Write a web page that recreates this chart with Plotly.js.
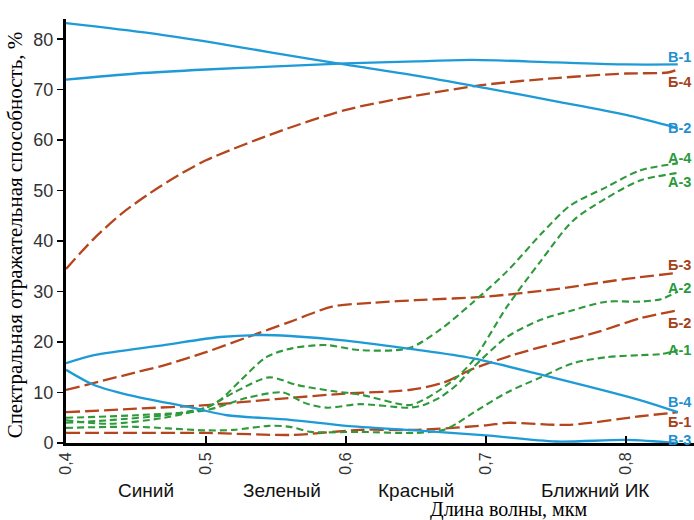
<!DOCTYPE html>
<html>
<head>
<meta charset="utf-8">
<script src="https://cdn.plot.ly/plotly-3.0.1.min.js"></script>
<style>html,body{margin:0;padding:0;background:#fff;}#chart{width:694px;height:520px;}</style>
</head>
<body>
<div id="chart"></div>
<script>
// ---- data ----
const xTicks = [0.4, 0.5, 0.6, 0.7, 0.8];
const xTickText = ['0,4', '0,5', '0,6', '0,7', '0,8'];
const yTicks = [0, 10, 20, 30, 40, 50, 60, 70, 80];
const bands = ['Синий', 'Зеленый', 'Красный', 'Ближний ИК'];

const v1x = [0.4, 0.45, 0.5, 0.55, 0.6, 0.65, 0.69, 0.75, 0.8, 0.837];
const v1y = [72, 73.2, 74, 74.6, 75.2, 75.6, 75.9, 75.4, 75, 75];
const v2x = [0.4, 0.46, 0.503, 0.546, 0.594, 0.65, 0.7, 0.75, 0.8, 0.837];
const v2y = [83.2, 81.2, 79.4, 77.4, 75.2, 72.8, 70.3, 67.7, 65, 62.4];
const v3x = [0.4, 0.42, 0.445, 0.49, 0.515, 0.56, 0.6, 0.65, 0.7, 0.75, 0.8, 0.837];
const v3y = [14.5, 11.5, 9.5, 7, 5.5, 4.6, 3.4, 2.5, 1.5, 0.3, 0.6, 0];
const v4x = [0.4, 0.42, 0.47, 0.51, 0.54, 0.56, 0.6, 0.65, 0.69, 0.74, 0.81, 0.837];
const v4y = [15.8, 17.4, 19.4, 21, 21.4, 21.2, 20.3, 18.5, 16.8, 13.5, 8.5, 6.1];

const b1x = [0.4, 0.45, 0.5, 0.562, 0.61, 0.65, 0.7, 0.715, 0.76, 0.81, 0.837];
const b1y = [2, 2, 2, 1.6, 2.6, 2.6, 3.5, 4, 3.6, 5.3, 6.1];
const b2x = [0.4, 0.45, 0.5, 0.55, 0.6, 0.645, 0.67, 0.69, 0.72, 0.75, 0.78, 0.81, 0.837];
const b2y = [6.1, 6.8, 7.5, 8.7, 9.8, 10.5, 12, 14.6, 17.5, 19.8, 22, 24.7, 26.3];
const b3x = [0.4, 0.45, 0.47, 0.5, 0.53, 0.56, 0.59, 0.62, 0.65, 0.7, 0.75, 0.8, 0.837];
const b3y = [10.5, 14, 15.4, 18, 21, 24, 27, 27.8, 28.3, 29, 30.5, 32.5, 33.7];
const b4x = [0.4, 0.42, 0.44, 0.46, 0.48, 0.5, 0.55, 0.6, 0.65, 0.7, 0.75, 0.8, 0.83, 0.837];
const b4y = [34.5, 40.5, 45.5, 49.5, 53, 56, 61.5, 66, 68.8, 71, 72.3, 73.2, 73.4, 74];

const a1x = [0.4, 0.45, 0.5, 0.52, 0.545, 0.56, 0.575, 0.61, 0.65, 0.67, 0.68, 0.691, 0.715, 0.739, 0.762, 0.786, 0.81, 0.825, 0.837];
const a1y = [3, 3.2, 2.5, 2.6, 3.4, 3.2, 2.2, 2.2, 2, 2.6, 4, 6, 10, 13, 15.8, 17, 17.4, 17.6, 18.4];
const a2x = [0.4, 0.45, 0.5, 0.53, 0.555, 0.57, 0.586, 0.61, 0.645, 0.655, 0.667, 0.679, 0.691, 0.715, 0.739, 0.762, 0.786, 0.81, 0.825, 0.837];
const a2y = [5, 5.5, 6.5, 9, 10, 8, 7, 7.7, 7, 7.5, 9, 11.5, 15, 21, 24.4, 26.3, 28, 28, 28.5, 30];
const a3x = [0.4, 0.43, 0.47, 0.5, 0.52, 0.545, 0.565, 0.59, 0.61, 0.645, 0.655, 0.667, 0.679, 0.691, 0.715, 0.739, 0.762, 0.786, 0.81, 0.837];
const a3y = [4.5, 3.8, 5, 7, 10, 13, 11.5, 10.3, 9.6, 7.5, 8.5, 10.5, 13, 16.4, 27, 36, 44, 48.5, 52, 53.5];
const a4x = [0.4, 0.43, 0.47, 0.5, 0.51, 0.525, 0.543, 0.562, 0.586, 0.61, 0.645, 0.667, 0.69, 0.715, 0.74, 0.76, 0.786, 0.81, 0.837];
const a4y = [4, 4.5, 5.5, 7, 8.5, 12.5, 17, 18.8, 19.4, 18.4, 18.8, 22.4, 27.7, 34, 41.6, 47, 50.7, 54, 55.4];

const seriesNames = ['В-1', 'Б-4', 'В-2', 'А-4', 'А-3', 'Б-3', 'А-2', 'Б-2', 'А-1', 'В-4', 'Б-1', 'В-3'];

// ---- styles ----
const BLUE = '#1e9bd6', BROWN = '#b5451d', GREEN = '#2e9a3c';
const LBLUE = '#1f8fd0', LBROWN = '#a6401b', LGREEN = '#2a9a3a';

function tr(x, y, kind) {
  const line = {shape: 'spline', smoothing: 0.8};
  if (kind === 'В') { line.color = BLUE; line.width = 2.3; }
  if (kind === 'Б') { line.color = BROWN; line.width = 2.3; line.dash = '14px,5px'; }
  if (kind === 'А') { line.color = GREEN; line.width = 2.1; line.dash = '7px,4px'; }
  return {x: x, y: y, type: 'scatter', mode: 'lines', line: line, hoverinfo: 'skip', showlegend: false};
}

const data = [
  tr(b1x, b1y, 'Б'), tr(b2x, b2y, 'Б'), tr(b3x, b3y, 'Б'), tr(b4x, b4y, 'Б'),
  tr(a1x, a1y, 'А'), tr(a2x, a2y, 'А'), tr(a3x, a3y, 'А'), tr(a4x, a4y, 'А'),
  tr(v1x, v1y, 'В'), tr(v2x, v2y, 'В'), tr(v3x, v3y, 'В'), tr(v4x, v4y, 'В')
];

// label vertical positions (data units) for the right-hand series labels
const labelY = [76.4, 71.5, 62.4, 56.4, 51.7, 35.2, 30.7, 23.8, 18.4, 8.1, 4.2, 0.5];
const annotations = seriesNames.map((n, i) => {
  const k = n.charAt(0);
  const c = k === 'В' ? LBLUE : (k === 'Б' ? LBROWN : LGREEN);
  return {text: '<b>' + n + '</b>', x: 1, xref: 'paper', y: labelY[i], yref: 'y',
    xanchor: 'right', yanchor: 'middle', showarrow: false, xshift: -1,
    font: {family: 'Liberation Sans, Arial, sans-serif', size: 14.5, color: c}};
});

const bandX = [0.4571, 0.5543, 0.650, 0.7779];
bands.forEach((b, i) => {
  annotations.push({text: b, x: bandX[i], xref: 'x', y: -0.111, yref: 'paper',
    xanchor: 'center', yanchor: 'middle', showarrow: false,
    font: {family: 'Liberation Sans, Arial, sans-serif', size: 19, color: '#111'}});
});

annotations.push({text: 'Длина волны, мкм', x: 0.704, xref: 'paper', y: -0.157, yref: 'paper',
  xanchor: 'center', yanchor: 'middle', showarrow: false,
  font: {family: 'Liberation Serif, Times New Roman, serif', size: 20, color: '#000'}});
annotations.push({text: 'Спектральная отражательная способность, %', x: -0.081, xref: 'paper',
  y: 0.49, yref: 'paper', xanchor: 'center', yanchor: 'middle', textangle: -90, showarrow: false,
  font: {family: 'Liberation Serif, Times New Roman, serif', size: 21, color: '#000'}});

const layout = {
  width: 694, height: 520,
  margin: {l: 66, r: 0, t: 19, b: 77},
  paper_bgcolor: '#fff', plot_bgcolor: '#fff',
  showlegend: false,
  xaxis: {range: [0.4, 0.8486], tickvals: xTicks, ticktext: xTickText, tickangle: -90,
    ticks: 'inside', ticklen: 7, tickwidth: 1.5, tickcolor: '#000',
    showline: true, linewidth: 3, linecolor: '#000', showgrid: false, zeroline: false,
    tickfont: {family: 'Liberation Sans, Arial, sans-serif', size: 16, color: '#333'}},
  yaxis: {range: [0, 84], tickvals: yTicks, ticks: 'outside', ticklen: 6, tickwidth: 1.5, tickcolor: '#000',
    showline: true, linewidth: 3, linecolor: '#000', showgrid: false, zeroline: false,
    tickfont: {family: 'Liberation Sans, Arial, sans-serif', size: 18, color: '#333'}},
  annotations: annotations
};

Plotly.newPlot('chart', data, layout, {staticPlot: true, displayModeBar: false});
</script>
</body>
</html>
